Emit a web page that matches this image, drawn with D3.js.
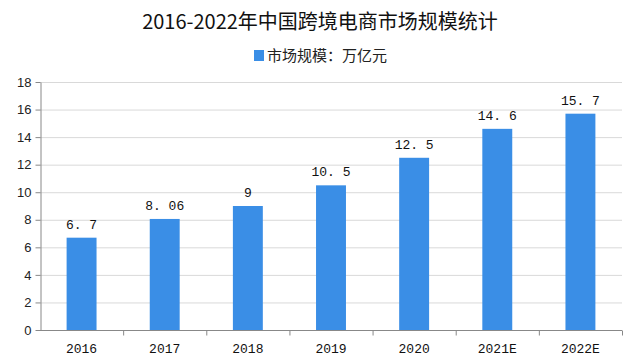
<!DOCTYPE html>
<html><head><meta charset="utf-8">
<script src="https://cdn.jsdelivr.net/npm/d3@7"></script>
<style>body{margin:0;background:#fff}svg{display:block}</style>
</head><body>
<svg id="c" width="640" height="357"></svg>
<script>
const categories = ["2016","2017","2018","2019","2020","2021E","2022E"];
const values = [6.7, 8.06, 9, 10.5, 12.5, 14.6, 15.7];
const valueLabels = ["6. 7","8. 06","9","10. 5","12. 5","14. 6","15. 7"];
const yTicks = [0,2,4,6,8,10,12,14,16,18];
const title = "2016-2022年中国跨境电商市场规模统计";
const legendLabel = "市场规模：万亿元";

const svg = d3.select("#c");
const m = {l:40, r:622, t:82, b:330};
const x = d3.scaleBand().domain(categories).range([m.l, m.r]).paddingInner(0.64).paddingOuter(0.32);
const xb = d3.scaleBand().domain(categories).range([m.l, m.r]);
const y = d3.scaleLinear().domain([0,18]).range([m.b, m.t]);

svg.append("text").attr("x",320).attr("y",29).attr("text-anchor","middle")
  .style("font-family","'Noto Sans CJK SC'").style("font-size","20px").attr("fill","#111").text(title);

const lg = svg.append("g");
lg.append("rect").attr("x",254).attr("y",50).attr("width",10).attr("height",11).attr("fill","#3a8ee6");
lg.append("text").attr("x",267).attr("y",61).style("font-family","'Noto Sans CJK SC'").style("font-size","15px").attr("fill","#222").text(legendLabel);

// grid
svg.append("g").selectAll("line").data(yTicks.filter(d=>d>0)).join("line")
  .attr("x1",m.l).attr("x2",m.r).attr("y1",d=>y(d)+0.5).attr("y2",d=>y(d)+0.5).attr("stroke","#d9d9d9");

// y axis
const ya = svg.append("g").attr("transform",`translate(${m.l+0.5},0)`)
  .call(d3.axisLeft(y).tickValues(yTicks).tickSize(5).tickSizeOuter(0));
ya.select(".domain").attr("stroke","#888");
ya.selectAll(".tick line").attr("stroke","#888");
ya.selectAll("text").style("font-family","'Liberation Sans', Arial").style("font-size","13px").attr("fill","#222").attr("x",-9);

// x axis
const xa = svg.append("g").attr("transform",`translate(0,${m.b+0.5})`);
xa.append("line").attr("x1",m.l).attr("x2",m.r).attr("stroke","#888");
xa.selectAll(".t").data(categories).join("line").attr("class","t")
  .attr("x1",d=>xb(d)+xb.bandwidth()+0.5).attr("x2",d=>xb(d)+xb.bandwidth()+0.5).attr("y1",0).attr("y2",5).attr("stroke","#888");
xa.selectAll("text").data(categories).join("text")
  .attr("x",d=>xb(d)+xb.bandwidth()/2).attr("y",22).attr("text-anchor","middle")
  .style("font-family","'Liberation Mono', monospace").style("font-size","13px").attr("fill","#111").text(d=>d);

// bars
svg.append("g").selectAll("rect").data(values).join("rect")
  .attr("x",(d,i)=>x(categories[i])).attr("width",x.bandwidth())
  .attr("y",d=>y(d)).attr("height",d=>y(0)-y(d)).attr("fill","#3a8ee6");

svg.append("g").selectAll("text").data(values).join("text")
  .attr("x",(d,i)=>x(categories[i])+x.bandwidth()/2).attr("y",d=>y(d)-9).attr("text-anchor","middle")
  .style("font-family","'Liberation Mono', monospace").style("font-size","13px").attr("fill","#111")
  .text((d,i)=>valueLabels[i]);
</script>
</body></html>
